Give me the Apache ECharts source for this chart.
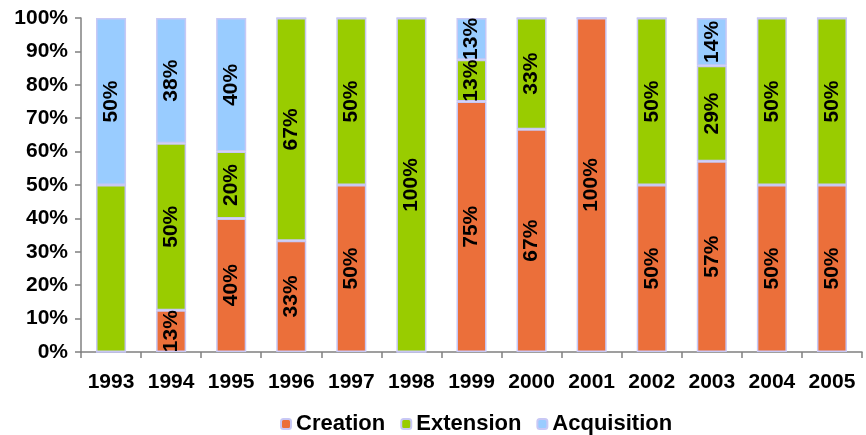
<!DOCTYPE html>
<html><head><meta charset="utf-8">
<script src="https://cdn.jsdelivr.net/npm/echarts@6/dist/echarts.min.js"></script>
<style>html,body{margin:0;padding:0;background:#fff}#c{width:866px;height:435px}</style>
</head><body><div id="c"></div>
<script>
var years = ['1993','1994','1995','1996','1997','1998','1999','2000','2001','2002','2003','2004','2005'];
var creation    = [0, 12.5, 40, 33.3, 50, 0, 75, 66.7, 100, 50, 57.1, 50, 50];
var extension   = [50, 50, 20, 66.7, 50, 100, 12.5, 33.3, 0, 50, 28.6, 50, 50];
var acquisition = [50, 37.5, 40, 0, 0, 0, 12.5, 0, 0, 0, 14.3, 0, 0];
var creationLabels    = ['', '13%', '40%', '33%', '50%', '', '75%', '67%', '100%', '50%', '57%', '50%', '50%'];
var extensionLabels   = ['', '50%', '20%', '67%', '50%', '100%', '13%', '33%', '', '50%', '29%', '50%', '50%'];
var acquisitionLabels = ['50%', '38%', '40%', '', '', '', '13%', '', '', '', '14%', '', ''];

var font = 'Liberation Sans, Arial, sans-serif';
function mk(name, vals, labels, color) {
  return {
    name: name, type: 'bar', stack: 'all', barWidth: '50%',
    data: vals,
    itemStyle: { color: color, borderColor: '#c8c8f5', borderWidth: 1.5 },
    label: {
      show: true, position: 'inside', rotate: 90,
      fontFamily: font, fontWeight: 'bold', fontSize: 21, color: '#000',
      formatter: function(p){ return labels[p.dataIndex]; }
    },
    labelLayout: { hideOverlap: false }
  };
}
var chart = echarts.init(document.getElementById('c'));
chart.setOption({
  animation: false,
  grid: { left: 81, right: 4, top: 18, bottom: 83 },
  legend: {
    top: 413, left: 275, itemWidth: 10, itemHeight: 10, itemGap: 15,
    textStyle: { fontFamily: font, fontWeight: 'bold', fontSize: 22, color: '#000' },
    data: ['Creation','Extension','Acquisition'],
    padding: [0, 5]
  },
  xAxis: {
    type: 'category', data: years,
    axisLine: { lineStyle: { color: '#808080', width: 1.5 } },
    axisTick: { show: true, length: 6, lineStyle: { color: '#808080', width: 1.5 } },
    axisLabel: { interval: 0, margin: 20, fontFamily: font, fontWeight: 'bold', fontSize: 21, color: '#000' }
  },
  yAxis: {
    type: 'value', min: 0, max: 100, interval: 10,
    splitLine: { show: false },
    axisLine: { show: true, lineStyle: { color: '#808080', width: 1.5 } },
    axisTick: { show: true, length: 6, lineStyle: { color: '#808080', width: 1.5 } },
    axisLabel: { margin: 13, fontFamily: font, fontWeight: 'bold', fontSize: 21, color: '#000',
      formatter: function(v){ return v + '%'; } }
  },
  series: [
    mk('Creation', creation, creationLabels, '#EB6F3A'),
    mk('Extension', extension, extensionLabels, '#99CC00'),
    mk('Acquisition', acquisition, acquisitionLabels, '#99CCFF')
  ]
});
</script></body></html>
